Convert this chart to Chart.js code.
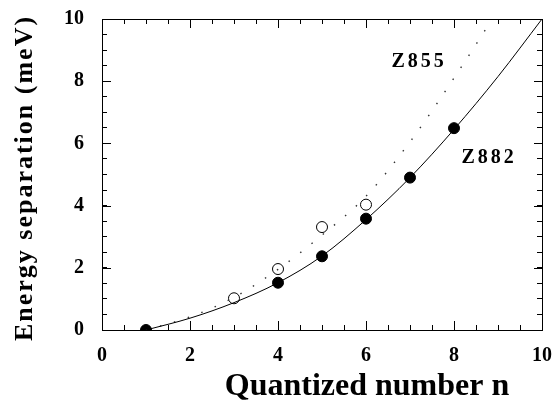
<!DOCTYPE html>
<html>
<head>
<meta charset="utf-8">
<script src="https://cdn.jsdelivr.net/npm/chart.js@4/dist/chart.umd.min.js"></script>
<style>
  html, body { margin: 0; padding: 0; background: #fff; }
  #wrap { width: 556px; height: 403px; }
</style>
</head>
<body>
<div id="wrap"><canvas id="sepChart"></canvas></div>
<script>
// measured level spacings
const nZ882 = [1, 4, 5, 6, 7, 8];
const eZ882 = [0, 1.52, 2.37, 3.58, 4.9, 6.49];
const nZ855 = [3, 4, 5, 6];
const eZ855 = [1.02, 1.96, 3.31, 4.03];

// fitted curves
const nFit882 = [1, 2, 3, 4, 5, 6, 7, 8, 9, 10];
const eFit882 = [0, 0.38, 0.88, 1.52, 2.38, 3.55, 4.9, 6.45, 8.15, 10];
const nFit855 = [1, 2, 3, 4, 5, 6, 7, 8, 8.87];
const eFit855 = [0, 0.42, 1.05, 1.95, 3.05, 4.3, 6.05, 8.1, 10];

// tick marks every 0.5, numbered every 2
const tickMarks = [0, 0.5, 1, 1.5, 2, 2.5, 3, 3.5, 4, 4.5, 5, 5.5, 6, 6.5, 7, 7.5, 8, 8.5, 9, 9.5, 10];
const labelledTicks = [0, 2, 4, 6, 8, 10];

const curveLabels = [
    { text: 'Z855', x: 6.58, y: 8.46 },
    { text: 'Z882', x: 8.17, y: 5.37 }
];
const xTitle = 'Quantized number n';
const yTitle = 'Energy separation (meV)';

const serif = "'Liberation Serif', 'DejaVu Serif', serif";
const pts = (xs, ys) => xs.map((x, i) => ({ x: x, y: ys[i] }));
const tickFont = { family: serif, size: 20, weight: 'bold' };

// frame, longer marks at numbered ticks, curve names and axis titles
const textPlugin = {
    id: 'texts',
    afterDraw(chart) {
        const ctx = chart.ctx;
        const sx = chart.scales.x, sy = chart.scales.y;
        const x0 = Math.round(sx.getPixelForValue(0)), x1 = Math.round(sx.getPixelForValue(10));
        const y0 = Math.round(sy.getPixelForValue(0)), y1 = Math.round(sy.getPixelForValue(10));
        ctx.save();
        ctx.fillStyle = '#000';
        ctx.fillRect(x0, y1, x1 - x0 + 1, 1);
        ctx.fillRect(x0, y0, x1 - x0 + 1, 1);
        ctx.fillRect(x0, y1, 1, y0 - y1 + 1);
        ctx.fillRect(x1, y1, 1, y0 - y1 + 1);
        labelledTicks.forEach(v => {
            const px = Math.round(sx.getPixelForValue(v));
            const py = Math.round(sy.getPixelForValue(v));
            ctx.fillRect(px, y0 - 9, 1, 9);
            ctx.fillRect(px, y1, 1, 9);
            ctx.fillRect(x0, py, 9, 1);
            ctx.fillRect(x1 - 8, py, 9, 1);
        });

        ctx.textBaseline = 'alphabetic';
        ctx.textAlign = 'left';
        ctx.font = 'bold 20px ' + serif;
        ctx.letterSpacing = '3px';
        curveLabels.forEach(c => {
            ctx.fillText(c.text, sx.getPixelForValue(c.x), sy.getPixelForValue(c.y));
        });

        ctx.textAlign = 'center';
        ctx.letterSpacing = '0px';
        ctx.font = 'bold 32px ' + serif;
        ctx.fillText(xTitle, 367, 395);

        ctx.translate(32, 178);
        ctx.rotate(-Math.PI / 2);
        ctx.font = 'bold 26px ' + serif;
        ctx.letterSpacing = '2px';
        ctx.fillText(yTitle, 0, 0);
        ctx.restore();
    }
};

// frame side with inward tick marks
function side(position, showLabels, labelPad) {
    return {
        type: 'linear',
        position: position,
        min: 0,
        max: 10,
        afterBuildTicks(scale) { scale.ticks = tickMarks.map(v => ({ value: v })); },
        afterFit(scale) {
            if (position === 'bottom') scale.height = 73;
            else if (position === 'left') scale.width = 102;
            else if (position === 'top') scale.height = 0;
            else scale.width = 0;
            scale.paddingLeft = 0;
            scale.paddingRight = 0;
            scale.paddingTop = 0;
            scale.paddingBottom = 0;
        },
        grid: {
            display: true,
            drawOnChartArea: false,
            drawTicks: true,
            tickLength: -5,
            color: '#000',
            lineWidth: 1
        },
        border: { display: true, color: '#000', width: 1 },
        ticks: {
            display: showLabels,
            color: '#000',
            padding: labelPad,
            maxRotation: 0,
            autoSkip: false,
            font: tickFont,
            callback: v => (labelledTicks.includes(v) ? String(v) : '')
        }
    };
}

new Chart(document.getElementById('sepChart').getContext('2d'), {
    type: 'scatter',
    data: {
        datasets: [
            {
                data: pts(nFit882, eFit882),
                showLine: true,
                borderColor: '#000',
                borderWidth: 1,
                pointRadius: 0,
                cubicInterpolationMode: 'monotone'
            },
            {
                data: pts(nFit855, eFit855),
                showLine: true,
                borderColor: '#333',
                borderWidth: 1.4,
                borderDash: [1.5, 13],
                pointRadius: 0,
                cubicInterpolationMode: 'monotone'
            },
            {
                data: pts(nZ882, eZ882),
                pointRadius: 5.5,
                pointBackgroundColor: '#000',
                pointBorderColor: '#000',
                pointBorderWidth: 1
            },
            {
                data: pts(nZ855, eZ855),
                pointRadius: 5.5,
                pointBackgroundColor: '#fff',
                pointBorderColor: '#000',
                pointBorderWidth: 1
            }
        ]
    },
    options: {
        responsive: true,
        maintainAspectRatio: false,
        animation: false,
        layout: { padding: { top: 19, right: 14, left: 0, bottom: 0 } },
        plugins: {
            legend: { display: false },
            tooltip: { enabled: false }
        },
        scales: {
            x: side('bottom', true, 19),
            y: side('left', true, 23),
            xTop: side('top', false, 0),
            yRight: side('right', false, 0)
        }
    },
    plugins: [textPlugin]
});
</script>
</body>
</html>
